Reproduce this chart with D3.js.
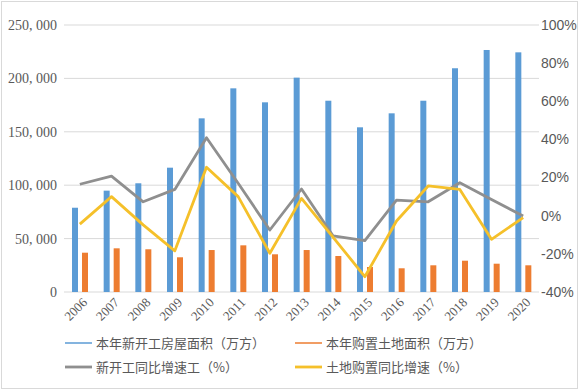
<!DOCTYPE html>
<html><head><meta charset="utf-8">
<script src="https://cdn.jsdelivr.net/npm/d3@7"></script>
<style>body{margin:0;background:#fff}svg{display:block}</style>
</head><body><svg id="c" width="580" height="392"></svg>
<script>
const years = ["2006","2007","2008","2009","2010","2011","2012","2013","2014","2015","2016","2017","2018","2019","2020"];
const newStartArea = [78900,94900,101800,116400,162600,190700,177600,200700,179100,154200,167300,179100,209500,226600,224400];
const landArea = [36800,40900,40000,32500,39300,43700,35300,39300,33700,23400,22200,25000,29300,26500,25000];
const newStartYoY = [16.5,20.8,7.3,13.8,40.9,17,-7.5,14,-10.6,-13.1,8.2,7.3,17.3,8.5,-0.2];
const landYoY = [-4.4,10,-4.8,-18.4,25.4,10,-19.7,9.1,-11.3,-32,-2.8,15.6,13.8,-12.4,-1];
const leftTicks = [0,50000,100000,150000,200000,250000];
const rightTicks = [-40,-20,0,20,40,60,80,100];
const seriesNames = ["本年新开工房屋面积（万方）","本年购置土地面积（万方）","新开工同比增速工（%）","土地购置同比增速（%）"];
const colors = ["#5b9bd5","#ed7d31","#8f8f8f","#f5c02a"];

const svg = d3.select("#c");
svg.append("rect").attr("x",1.5).attr("y",1.5).attr("width",576).attr("height",387)
  .attr("fill","#fff").attr("stroke","#d9d9d9");

const x = d3.scaleBand().domain(years).range([64,539]).padding(0);
const x1 = d3.scaleBand().domain(["a","b"]).range([8,24]).paddingInner(0.4);
const y = d3.scaleLinear().domain([0,250000]).range([292,25]);
const yR = d3.scaleLinear().domain([-40,100]).range([292,25]);

// gridlines
svg.append("g").selectAll("line").data(leftTicks).join("line")
  .attr("x1",64).attr("x2",539).attr("y1",d=>y(d)).attr("y2",d=>y(d))
  .attr("stroke","#d9d9d9").attr("stroke-width",1);

// left axis
const fmt = d3.format(",");
svg.append("g").selectAll("text").data(leftTicks).join("text")
  .attr("x",57).attr("y",d=>y(d)).attr("dy","0.35em").attr("text-anchor","end")
  .attr("font-family","Liberation Serif, serif").attr("font-size",14).attr("fill","#595959")
  .text(d=>fmt(d).replace(",",", "));

// right axis
svg.append("g").selectAll("text").data(rightTicks).join("text")
  .attr("x",541).attr("y",d=>yR(d)).attr("dy","0.35em").attr("text-anchor","start")
  .attr("font-family","Liberation Sans, Arial, sans-serif").attr("font-size",14).attr("fill","#595959")
  .text(d=>d+"%");

// bars
const g = svg.append("g");
g.selectAll("rect.a").data(years).join("rect").attr("class","a")
  .attr("x",(d)=>x(d)+x1("a")).attr("width",x1.bandwidth())
  .attr("y",(d,i)=>y(newStartArea[i])).attr("height",(d,i)=>y(0)-y(newStartArea[i]))
  .attr("fill",colors[0]);
g.selectAll("rect.b").data(years).join("rect").attr("class","b")
  .attr("x",(d)=>x(d)+x1("b")).attr("width",x1.bandwidth())
  .attr("y",(d,i)=>y(landArea[i])).attr("height",(d,i)=>y(0)-y(landArea[i]))
  .attr("fill",colors[1]);

// lines
const cx = d=>x(d)+x.bandwidth()/2;
const line = arr => d3.line().x((d,i)=>cx(years[i])).y(d=>yR(d))(arr);
svg.append("path").attr("d",line(newStartYoY)).attr("fill","none")
  .attr("stroke",colors[2]).attr("stroke-width",2.8).attr("stroke-linejoin","round");
svg.append("path").attr("d",line(landYoY)).attr("fill","none")
  .attr("stroke",colors[3]).attr("stroke-width",2.8).attr("stroke-linejoin","round");

// x labels
svg.append("g").selectAll("text").data(years).join("text")
  .attr("transform",d=>`translate(${cx(d)+5},${300}) rotate(-45)`)
  .attr("text-anchor","end").attr("dy","0.35em")
  .attr("font-family","Liberation Serif, serif").attr("font-size",13).attr("fill","#595959")
  .text(d=>d);

// legend
const legPos = [[65,343],[295,343],[65,367],[295,367]];
const lg = svg.append("g");
seriesNames.forEach((n,i)=>{
  const [lx,ly] = legPos[i];
  lg.append("line").attr("x1",lx).attr("x2",lx+27).attr("y1",ly).attr("y2",ly)
    .attr("stroke",colors[i]).attr("stroke-width", i<2?1.5:2.8);
  lg.append("text").attr("x",lx+31).attr("y",ly).attr("dy","0.35em")
    .attr("font-family","Noto Sans CJK SC, sans-serif").attr("font-size",13).attr("fill","#595959")
    .text(n);
});
</script></body></html>
